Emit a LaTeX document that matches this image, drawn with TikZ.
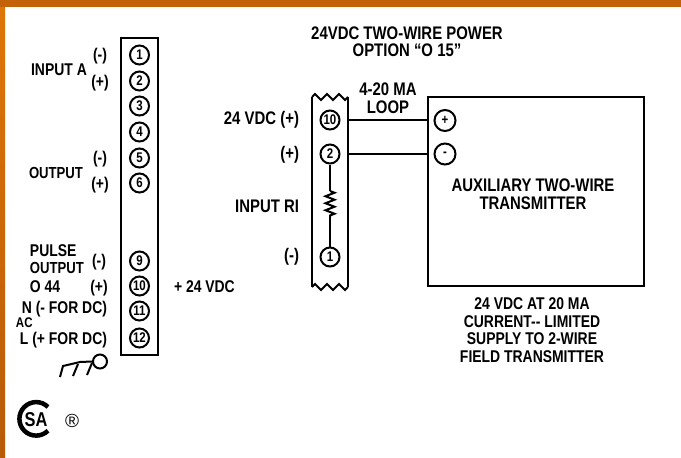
\documentclass[tikz,border=0pt]{standalone}
\usepackage{fontspec}
\setmainfont[FakeStretch=0.82,BoldFont={Liberation Sans Bold}]{Liberation Sans}
\newfontfamily\regfont{Liberation Sans}
\usepackage{tikz}
\usetikzlibrary{decorations.pathmorphing}
\definecolor{edgetop}{HTML}{C4620A}
\definecolor{edgeleft}{HTML}{DE7608}
\definecolor{edgelow}{HTML}{B85A08}
\begin{document}
\begin{tikzpicture}
 [ x=1pt
 , y=-1pt
 , line width=2pt
 , font=\bfseries\fontsize{17}{17.5}\selectfont
 , terminal/.style={draw, circle, line width=2pt, minimum size=19pt, inner sep=0pt}
 , number/.style={font=\bfseries\fontsize{14}{14}\selectfont}
 , label text/.style={inner sep=0pt, align=center}
 , wide text/.style={label text, font=\bfseries\fontsize{18.2}{17.5}\selectfont}
 , zig/.style={decorate, decoration={zigzag, segment length=12pt, amplitude=3pt}}
 ]
  \useasboundingbox (0,0) rectangle (681,458);
  % window edge
  \fill [top color=edgeleft, bottom color=edgelow] (0,0) rectangle (5,458);
  \fill [edgetop] (0,0) rectangle (681,7);

  % left terminal strip
  \node [draw, minimum width=37pt, minimum height=317pt, inner sep=0pt] (strip) at (139.5,196.5) {};
  \foreach \name/\num/\ypos in {a1/1/55, a2/2/81, a3/3/106, a4/4/132, a5/5/158, a6/6/183, a9/9/261, a10/10/286, a11/11/311, a12/12/338}
    \node [terminal, number] (\name) at (139.5,\ypos) {\num};
  \node [label text] (inA) at (59,70) {INPUT A};
  \node [label text] (inAm) at (100,56) {(-)};
  \node [label text] (inAp) at (100,83) {(+)};
  \node [label text, font=\bfseries\fontsize{16}{16}\selectfont] (out) at (56,173) {OUTPUT};
  \node [label text] (outm) at (100,159) {(-)};
  \node [label text] (outp) at (100,185) {(+)};
  \node [label text, anchor=west] (pulse) at (29,251) {PULSE};
  \node [label text, anchor=west, font=\bfseries\fontsize{16}{16}\selectfont] (pout) at (29,268) {OUTPUT};
  \node [label text, anchor=west] (o44) at (29,287) {O 44};
  \node [label text] (pm) at (99,262) {(-)};
  \node [label text] (pp) at (99,288) {(+)};
  \node [label text, anchor=east] (nfor) at (108,309) {N (- FOR DC)};
  \node [label text, anchor=west, font=\bfseries\fontsize{14}{14}\selectfont] (ac) at (15,323) {AC};
  \node [label text, anchor=east] (lfor) at (108,340) {L (+ FOR DC)};
  \node [label text, anchor=west] (vdc) at (173,287) {+ 24 VDC};

  % ground
  \node [draw, circle, minimum size=14pt, inner sep=0pt] (gnd) at (100,361.5) {};
  \draw (gnd.west) -- (80,362) -- (63,366) -- (60,377);
  \draw (78,364) -- (73,376);
  \draw (92,363) -- (87,375);

  % mark
  \draw [line width=4.5pt] (48,407) arc [start angle=-45, end angle=-315, radius=16.75];
  \node [label text, font=\bfseries\fontsize{20}{20}\selectfont] (csa) at (36,420) {SA};
  \node [label text, font=\regfont\fontsize{19}{19}\selectfont] (reg) at (72,421) {®};

  % heading
  \node [wide text] (head) at (407,41.5) {24VDC TWO-WIRE POWER\\OPTION “O 15”};

  % right strip
  \coordinate (sNW) at (312,97);
  \coordinate (sNE) at (348,97);
  \coordinate (sSW) at (312,287);
  \coordinate (sSE) at (348,287);
  \draw (sSW) -- (sNW);
  \draw (sSE) -- (sNE);
  \draw [zig] (sNW) -- (sNE);
  \draw [zig] (sSW) -- (sSE);
  \node [terminal, number] (b10) at (330,120) {10};
  \node [terminal, number] (b2) at (330,154) {2};
  \node [terminal, number] (b1) at (330,257) {1};
  \coordinate (r1) at (330,191);
  \coordinate (r2) at (330,217);
  \draw (b2) -- (r1);
  \draw [decorate, decoration={zigzag, segment length=7pt, amplitude=4.5pt}] (r1) -- (r2);
  \draw (r2) -- (b1);
  \node [wide text, anchor=east] (v24) at (300,120) {24 VDC (+)};
  \node [wide text, anchor=east] (rp) at (300,155) {(+)};
  \node [wide text, anchor=east] (ri) at (300,206) {INPUT RI};
  \node [wide text, anchor=east] (rm) at (300,257) {(-)};

  % transmitter
  \node [draw, minimum width=216pt, minimum height=189pt, inner sep=0pt] (box) at (536,191.5) {};
  \node [terminal, number, minimum size=21pt] (tp) at (445,120.5) {+};
  \node [terminal, number, minimum size=21pt] (tm) at (445,154) {-};
  \node [wide text] (aux) at (533,194) {AUXILIARY TWO-WIRE\\TRANSMITTER};
  \node [wide text] (loop) at (388,98) {4-20 MA\\LOOP};
  \draw (sNE |- b10) -- (box.west |- b10);
  \draw (sNE |- b2) -- (box.west |- b2);
  \node [label text] (note) at (532,330) {24 VDC AT 20 MA\\CURRENT-{}- LIMITED\\SUPPLY TO 2-WIRE\\FIELD TRANSMITTER};
\end{tikzpicture}
\end{document}
